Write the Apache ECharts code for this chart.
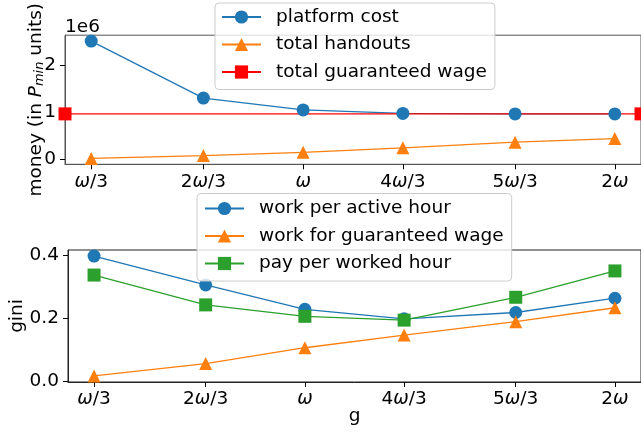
<!DOCTYPE html>
<html>
<head>
<meta charset="utf-8">
<script src="https://cdn.jsdelivr.net/npm/echarts@6/dist/echarts.min.js"></script>
<style>
html,body{margin:0;padding:0;background:#fff;}
#chart{width:641px;height:434px;}
</style>
</head>
<body>
<div id="chart"></div>
<script>
// x positions of g values (ω = 25)
const xVals = [8, 17, 25, 33, 42, 50];
const xLabels = ['{w|ω}/3', '2{w|ω}/3', '{w|ω}', '4{w|ω}/3', '5{w|ω}/3', '2{w|ω}'];

// top panel (money, units of P_min)
const platformCost = [2.51e6, 1.30e6, 1.05e6, 0.975e6, 0.965e6, 0.965e6];
const totalHandouts = [0.02e6, 0.08e6, 0.15e6, 0.245e6, 0.365e6, 0.44e6];
const guaranteedWage = 0.965e6;
const moneyTicks = [0, 1e6, 2e6];

// bottom panel (gini)
const workPerActiveHour = [0.396, 0.305, 0.228, 0.198, 0.218, 0.263];
const workForGuaranteedWage = [0.018, 0.057, 0.107, 0.147, 0.189, 0.233];
const payPerWorkedHour = [0.336, 0.242, 0.206, 0.194, 0.266, 0.349];
const giniTicks = [0, 0.2, 0.4];

const X_MIN = 5.9, X_MAX = 52.1;

const FONT = 'DejaVu Sans';
const FS = 18.5;
const BLUE = '#1f77b4', ORANGE = '#ff7f0e', GREEN = '#2ca02c', RED = '#ff0000';

function pairs(ys) { return xVals.map((x, i) => [x, ys[i]]); }

function xAxisCfg(gridIndex, color, extra) {
  return Object.assign({
    type: 'value', gridIndex: gridIndex, min: X_MIN, max: X_MAX,
    nameMoveOverlap: false,
    axisLine: { show: true, onZero: false, lineStyle: { color: color, width: 1 } },
    axisTick: { show: true, length: 5, customValues: xVals, lineStyle: { color: '#000', width: 1 } },
    axisLabel: {
      customValues: xVals, margin: 8, color: '#000', fontFamily: FONT, fontSize: FS,
      formatter: function (v) { const i = xVals.indexOf(v); return i >= 0 ? xLabels[i] : ''; },
      rich: { w: { fontStyle: 'italic', fontFamily: FONT, fontSize: FS, color: '#000' } }
    },
    splitLine: { show: false }
  }, extra || {});
}

function yAxisCfg(gridIndex, color, min, max, ticks, fmt, extra) {
  return Object.assign({
    type: 'value', gridIndex: gridIndex, min: min, max: max,
    nameMoveOverlap: false,
    axisLine: { show: true, onZero: false, lineStyle: { color: color, width: 1 } },
    axisTick: { show: true, length: 5, customValues: ticks, lineStyle: { color: '#000', width: 1 } },
    axisLabel: { customValues: ticks, margin: 9, color: '#000', fontFamily: FONT, fontSize: FS, formatter: fmt },
    splitLine: { show: false }
  }, extra || {});
}

const legendBase = {
  orient: 'vertical',
  itemWidth: 39, itemHeight: 16.5, itemGap: 8.5,
  backgroundColor: 'rgba(255,255,255,0.8)',
  borderColor: '#cccccc', borderWidth: 1, borderRadius: 4,
  selectedMode: false,
  textStyle: { fontFamily: FONT, fontSize: FS, color: '#000', lineHeight: 19, padding: [0, 0, 0, 10] }
};

function lineSeries(name, data, color, symbol, size, xi, yi) {
  return {
    type: 'line', name: name, data: data, xAxisIndex: xi, yAxisIndex: yi,
    symbol: symbol, symbolSize: size, showAllSymbol: true,
    lineStyle: { color: color, width: 1.3 },
    itemStyle: { color: color, opacity: 1 },
    emphasis: { disabled: true },
    animation: false
  };
}

const chart = echarts.init(document.getElementById('chart'), null, { renderer: 'canvas' });
chart.setOption({
  backgroundColor: '#fff',
  animation: false,
  grid: [
    { left: 65, top: 33, width: 578, height: 131.3, show: true, borderColor: '#555', borderWidth: 1, backgroundColor: 'transparent' },
    { left: 65, top: 250, width: 578, height: 132, show: true, borderColor: '#222', borderWidth: 1, backgroundColor: 'transparent' }
  ],
  xAxis: [
    xAxisCfg(0, '#555'),
    xAxisCfg(1, '#222', {
      name: 'g', nameLocation: 'middle', nameGap: 25,
      nameTextStyle: { fontFamily: FONT, fontSize: FS, color: '#000' }
    })
  ],
  yAxis: [
    yAxisCfg(0, '#555', -0.105e6, 2.635e6, moneyTicks, v => String(Math.round(v / 1e6)), {
      name: 'money (in {i|P}{s|min} units)', nameLocation: 'middle', nameRotate: 90, nameGap: 19,
      nameTextStyle: {
        fontFamily: FONT, fontSize: FS, color: '#000',
        rich: {
          i: { fontFamily: FONT, fontSize: FS, fontStyle: 'italic', color: '#000' },
          s: { fontFamily: FONT, fontSize: 13, fontStyle: 'italic', color: '#000', verticalAlign: 'bottom', lineHeight: 13 }
        }
      }
    }),
    yAxisCfg(1, '#222', -0.001, 0.415, giniTicks, v => v.toFixed(1), {
      name: 'gini', nameLocation: 'middle', nameRotate: 90, nameGap: 41,
      nameTextStyle: { fontFamily: FONT, fontSize: FS, color: '#000' }
    })
  ],
  legend: [
    Object.assign({}, legendBase, {
      left: 215, top: 3, padding: [4.5, 8, 8, 6],
      data: ['platform cost', 'total handouts', 'total guaranteed wage']
    }),
    Object.assign({}, legendBase, {
      left: 197, top: 193.5, padding: [5.5, 8, 8, 7],
      data: ['work per active hour', 'work for guaranteed wage', 'pay per worked hour']
    })
  ],
  graphic: [
    { type: 'text', left: 65, top: 18, style: { text: '1e6', fontFamily: FONT, fontSize: FS, fill: '#000' } }
  ],
  series: [
    lineSeries('platform cost', pairs(platformCost), BLUE, 'circle', 13, 0, 0),
    lineSeries('total handouts', pairs(totalHandouts), ORANGE, 'triangle', 13, 0, 0),
    Object.assign(lineSeries('total guaranteed wage', [[X_MIN, guaranteedWage], [X_MAX, guaranteedWage]], RED, 'rect', 13, 0, 0), { clip: false }),
    lineSeries('work per active hour', pairs(workPerActiveHour), BLUE, 'circle', 13, 1, 1),
    lineSeries('work for guaranteed wage', pairs(workForGuaranteedWage), ORANGE, 'triangle', 13, 1, 1),
    lineSeries('pay per worked hour', pairs(payPerWorkedHour), GREEN, 'rect', 13, 1, 1)
  ]
});
</script>
</body>
</html>
